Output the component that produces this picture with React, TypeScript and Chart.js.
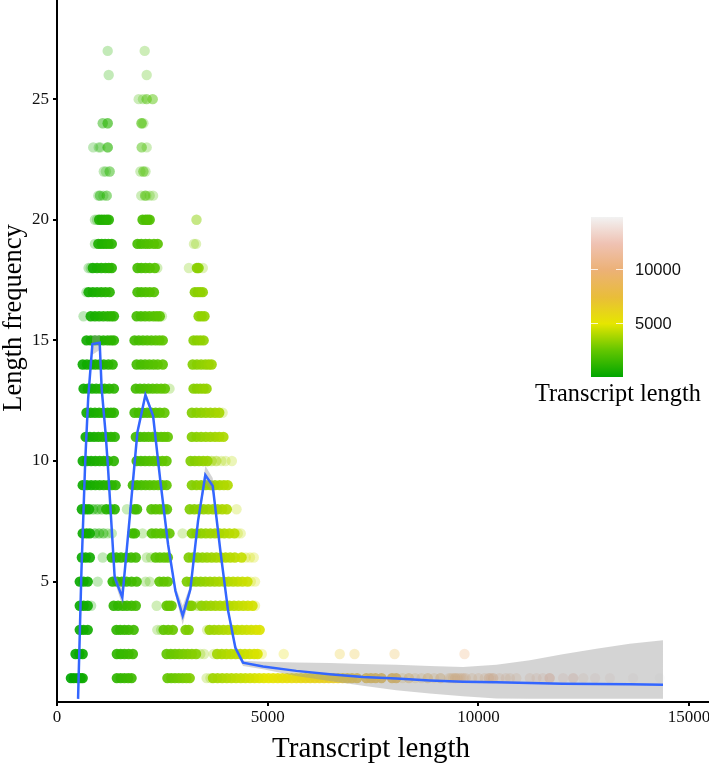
import React, { useEffect, useRef } from "react";
import { Chart, registerables } from "chart.js";

Chart.register(...registerables);

const yTickValues = [5, 10, 15, 20, 25];
const xTickValues = [0, 5000, 10000, 15000];
const legendTickValues = [10000, 5000];
const colorStops = ["#00A600", "#63C600", "#E6E600", "#E9BD3A", "#ECB176", "#EFC2B3", "#F2F2F2"];
const colorMin = 300;
const colorMax = 14400;
const xTitle = "Transcript length";
const yTitle = "Length frequency";

// transcript lengths of the packed bands, per length frequency 1, 2, 3 ...
const denseRows: number[][] = [
  [330, 400, 480, 560, 610, 1420, 1510, 1600, 1690, 1770, 2620, 2710, 2800, 2890, 2980, 3070, 3150, 3700, 3810, 3920, 4030, 4140, 4250, 4360, 4470, 4580, 4690, 4800, 4910, 5020, 5130, 5240, 5350, 5460, 5570, 5680, 5790, 5900, 6010, 6120, 6230, 6340, 6450, 6560, 6670, 6780, 6890, 7000, 7120, 7340, 7450, 7560, 7700, 7950, 8050],
  [440, 530, 610, 1420, 1510, 1600, 1700, 1800, 2600, 2700, 2800, 2900, 3000, 3100, 3200, 3300, 3800, 3910, 4020, 4130, 4240, 4350, 4460, 4570, 4680, 4760],
  [540, 630, 730, 1410, 1500, 1600, 1700, 1820, 2530, 2640, 2750, 3050, 3125, 3620, 3730, 3840, 3950, 4060, 4170, 4280, 4390, 4500, 4610, 4720, 4810],
  [540, 630, 730, 1345, 1450, 1560, 1660, 1770, 1870, 2600, 2660, 2720, 3150, 3200, 3430, 3540, 3650, 3760, 3870, 3980, 4090, 4200, 4310, 4420, 4530, 4640],
  [540, 630, 730, 1320, 1430, 1540, 1650, 1770, 1890, 2430, 2530, 2630, 3080, 3190, 3300, 3410, 3520, 3630, 3740, 3850, 3960, 4070, 4180, 4290, 4400, 4520],
  [590, 680, 780, 1300, 1410, 1520, 1640, 1760, 1870, 2340, 2440, 2540, 2630, 3125, 3230, 3340, 3450, 3560, 3670, 3780, 3890, 4000, 4110, 4220, 4380],
  [610, 700, 780, 1790, 1850, 2250, 2350, 2460, 2570, 2670, 3200, 3310, 3420, 3530, 3640, 3750, 3860, 3970, 4090, 4210],
  [590, 680, 760, 1170, 1270, 1370, 1840, 1900, 2240, 2340, 2440, 2530, 2610, 3150, 3260, 3370, 3480, 3590, 3700, 3810, 3920, 4030],
  [610, 710, 810, 910, 1010, 1110, 1210, 1300, 1390, 1800, 1900, 2000, 2100, 2200, 2300, 2400, 2500, 2600, 3200, 3310, 3420, 3530, 3640, 3750, 3860, 3960, 4050],
  [610, 710, 810, 910, 1010, 1110, 1210, 1350, 1890, 1990, 2090, 2190, 2290, 2390, 2500, 2600, 3170, 3270, 3370, 3470, 3570],
  [680, 780, 880, 980, 1080, 1180, 1280, 1370, 1870, 1970, 2070, 2170, 2270, 2370, 2470, 2550, 2630, 3200, 3310, 3420, 3530, 3640, 3750, 3850, 3950],
  [700, 800, 900, 1000, 1100, 1200, 1280, 1350, 1840, 1940, 2040, 2140, 2240, 2340, 2440, 2550, 3200, 3310, 3420, 3530, 3640, 3750, 3850],
  [630, 730, 830, 930, 1030, 1130, 1240, 1350, 1870, 1970, 2070, 2170, 2270, 2370, 2470, 2560, 3240, 3320, 3400, 3480, 3550],
  [610, 710, 810, 910, 1010, 1110, 1220, 1320, 1890, 1990, 2090, 2190, 2290, 2390, 2510, 3220, 3320, 3420, 3520, 3600, 3670],
  [700, 800, 900, 1000, 1100, 1200, 1280, 1350, 1840, 1940, 2040, 2140, 2240, 2340, 2430, 2510, 3240, 3320, 3400, 3480],
  [800, 900, 1000, 1100, 1200, 1280, 1350, 1890, 1990, 2090, 2190, 2290, 2370, 2440, 3360, 3430, 3500],
  [750, 850, 950, 1050, 1150, 1250, 1910, 2000, 2100, 2200, 2300, 3270, 3340, 3400, 3460],
  [850, 950, 1050, 1150, 1230, 1300, 1910, 2000, 2100, 2200, 2320, 3320, 3360],
  [980, 1060, 1140, 1220, 1300, 1910, 2000, 2100, 2190, 2300, 2390],
  [1000, 1060, 1120, 1180, 1230, 2030, 2100, 2150, 2200],
];

// single, pale dots (a repeated length means several transcripts on the same spot)
const faintRows: number[][] = [
  [3550, 3640, 8200, 8350, 8350, 8500, 8650, 8800, 8800, 8950, 9100, 9100, 9300, 9350, 9400, 9450, 9450, 9500, 9550, 9600, 9650, 9700, 9850, 10000, 10150, 10250, 10250, 10300, 10350, 10350, 10500, 10650, 10750, 10900, 11220, 11380, 11530, 11690, 11690, 11690, 12010, 12250, 12250, 12490, 12770, 13120, 13670, 14300],
  [3400, 3490, 3720, 4860, 5380, 6710, 7060, 8010, 9670],
  [2380, 2470, 3560],
  [810, 2365, 3330, 3370, 4700],
  [965, 2100, 2200, 4600, 4700],
  [1085, 2130, 2230, 4480, 4580, 4670],
  [900, 900, 1000, 1000, 1100, 1100, 1200, 1300, 2030, 2980, 4290, 4360],
  [860, 860, 960, 960, 1060, 1060, 1660, 4260],
  [],
  [3670, 3670, 3780, 3780, 3900, 4000, 4150],
  [],
  [3930],
  [2670],
  [],
  [],
  [630, 2490],
  [700],
  [750, 800, 2380, 3130, 3460],
  [900, 3250, 3300],
  [900, 950, 3310, 3310],
  [980, 1020, 1020, 1100, 1180, 1180, 2000, 2090, 2090, 2120, 2200, 2280],
  [1110, 1160, 1250, 1250, 1980, 2050, 2050, 2100],
  [860, 990, 1030, 1203, 1203, 1203, 2010, 2010, 2128],
  [1085, 1085, 1203, 1203, 1203, 2000, 2010, 2010, 2050],
  [1939, 2040, 2128, 2128, 2271, 2271],
  [1227, 2128],
  [1203, 2081],
];

const lineX = [500, 580, 670, 740, 840, 1013, 1060, 1148, 1203, 1369, 1550, 1725, 1907, 2098, 2280, 2453, 2635, 2810, 2983, 3165, 3347, 3520, 3695, 3877, 4060, 4233, 4414, 4890, 5680, 6470, 7260, 8050, 8845, 9635, 10427, 11220, 12000, 12800, 13590, 14380];
const lineY = [0.14, 5.45, 10, 12.6, 14.85, 14.9, 13, 11.25, 9.93, 5.17, 4.34, 7.65, 11.18, 12.74, 11.87, 9.17, 6.55, 4.61, 3.58, 4.68, 7.52, 9.42, 8.97, 6.27, 3.79, 2.26, 1.64, 1.48, 1.3, 1.16, 1.05, 0.98, 0.9, 0.85, 0.83, 0.8, 0.77, 0.76, 0.745, 0.73];
const ribbonUpper = [0.3, 5.6, 10.15, 12.8, 15.2, 15.2, 13.15, 11.4, 10.05, 5.35, 4.7, 7.8, 11.3, 12.9, 12, 9.3, 6.7, 4.8, 4, 4.85, 7.65, 9.8, 9.3, 6.4, 3.95, 2.4, 1.72, 1.68, 1.65, 1.63, 1.59, 1.55, 1.5, 1.46, 1.55, 1.74, 1.99, 2.22, 2.42, 2.57];
const ribbonLower = [0.14, 5.3, 9.85, 12.4, 14.4, 14.6, 12.85, 11.1, 9.8, 5, 4, 7.5, 11.05, 12.6, 11.75, 9.05, 6.4, 4.45, 3.2, 4.5, 7.4, 9.1, 8.7, 6.15, 3.65, 2.1, 1.5, 1.37, 1.09, 0.88, 0.68, 0.5, 0.36, 0.25, 0.16, 0.14, 0.14, 0.14, 0.14, 0.14];

function hexRgb(h: string) {
  return [1, 3, 5].map((i) => parseInt(h.slice(i, i + 2), 16));
}
function colorFor(v: number, alpha: number) {
  const t = Math.max(0, Math.min(1, (v - colorMin) / (colorMax - colorMin))) * (colorStops.length - 1);
  const i = Math.min(colorStops.length - 2, Math.floor(t));
  const a = hexRgb(colorStops[i]);
  const b = hexRgb(colorStops[i + 1]);
  const f = t - i;
  const c = a.map((p, k) => Math.round(p + (b[k] - p) * f));
  return `rgba(${c[0]},${c[1]},${c[2]},${alpha})`;
}

const toPoints = (rows: number[][]) => rows.flatMap((r, i) => r.map((x) => ({ x, y: i + 1 })));
const serif = '"Liberation Serif"';
const sans = '"Liberation Sans"';

const axisTitles = {
  id: "axisTitles",
  afterDraw(chart: any) {
    const ctx = chart.ctx;
    ctx.save();
    ctx.fillStyle = "#000";
    ctx.textAlign = "center";
    ctx.textBaseline = "middle";
    ctx.font = `29px ${serif}`;
    ctx.fillText(xTitle, 371, 749);
    ctx.translate(14, 318);
    ctx.rotate(-Math.PI / 2);
    ctx.font = `26.5px ${serif}`;
    ctx.fillText(yTitle, 0, 0);
    ctx.restore();
  },
};

const clearPadding = (s: any) => {
  s.paddingTop = 0;
  s.paddingBottom = 0;
  s.paddingLeft = 0;
  s.paddingRight = 0;
  if (s._margins) {
    s._margins.top = 0;
    s._margins.bottom = 0;
    s._margins.left = 0;
    s._margins.right = 0;
  }
};

export default function App() {
  const ref = useRef<HTMLCanvasElement>(null);
  useEffect(() => {
    const chart = new Chart(ref.current!, {
      type: "scatter",
      plugins: [axisTitles],
      data: {
        datasets: [
          {
            label: "faint",
            data: toPoints(faintRows),
            order: 5,
            pointRadius: 5.2,
            pointHoverRadius: 5.2,
            pointBorderWidth: 0,
            pointBackgroundColor: (c: any) => colorFor(c.raw?.x ?? 0, 0.28),
          },
          {
            label: "dense",
            data: toPoints(denseRows),
            order: 4,
            pointRadius: 5.2,
            pointHoverRadius: 5.2,
            pointBorderWidth: 0,
            pointBackgroundColor: (c: any) => colorFor(c.raw?.x ?? 0, 0.92),
          },
          {
            label: "upper",
            data: lineX.map((x, i) => ({ x, y: ribbonUpper[i] })),
            order: 3,
            showLine: true,
            pointRadius: 0,
            borderWidth: 0,
            borderColor: "rgba(0,0,0,0)",
            backgroundColor: "rgba(153,153,153,0.42)",
            fill: "+1",
            tension: 0,
          },
          {
            label: "lower",
            data: lineX.map((x, i) => ({ x, y: ribbonLower[i] })),
            order: 3,
            showLine: true,
            pointRadius: 0,
            borderWidth: 0,
            borderColor: "rgba(0,0,0,0)",
            fill: false,
            tension: 0,
          },
          {
            label: "smooth",
            data: lineX.map((x, i) => ({ x, y: lineY[i] })),
            order: 1,
            showLine: true,
            pointRadius: 0,
            borderWidth: 2.5,
            borderColor: "#3366FF",
            fill: false,
            tension: 0,
          },
        ],
      } as any,
      options: {
        responsive: false,
        animation: false,
        layout: { padding: 0, autoPadding: false },
        plugins: { legend: { display: false }, tooltip: { enabled: false } },
        scales: {
          x: {
            type: "linear",
            min: 0,
            max: 15472,
            afterBuildTicks: (s: any) => {
              s.ticks = xTickValues.map((value) => ({ value }));
            },
            afterFit: (s: any) => {
              s.height = 65;
              clearPadding(s);
            },
            border: { color: "#000", width: 2 },
            grid: { drawOnChartArea: false, drawTicks: true, tickLength: 4, color: "#000", lineWidth: 2 },
            ticks: { autoSkip: false, maxRotation: 0, color: "#111", font: { family: serif, size: 17 }, padding: 1, callback: (v: any) => String(v) },
          },
          y: {
            type: "linear",
            min: 0.01,
            max: 29.11,
            afterBuildTicks: (s: any) => {
              s.ticks = yTickValues.map((value) => ({ value }));
            },
            afterFit: (s: any) => {
              s.width = 57;
              clearPadding(s);
            },
            border: { color: "#000", width: 2 },
            grid: { drawOnChartArea: false, drawTicks: true, tickLength: 4, color: "#000", lineWidth: 2 },
            ticks: { autoSkip: false, color: "#111", font: { family: serif, size: 17 }, padding: 4, callback: (v: any) => String(v) },
          },
        },
      } as any,
    });
    return () => chart.destroy();
  }, []);

  const barTop = 217;
  const barHeight = 160;
  const tickY = (v: number) => barTop + barHeight * (1 - v / 14800);
  return (
    <div style={{ position: "absolute", left: 0, top: 0, width: 709, height: 767, background: "#fff", overflow: "hidden" }}>
      <canvas ref={ref} width={709} height={767} style={{ display: "block" }} />
      <div
        style={{
          position: "absolute",
          left: 591,
          top: barTop,
          width: 32,
          height: barHeight,
          background: `linear-gradient(to top, ${colorStops.join(", ")})`,
        }}
      />
      {legendTickValues.map((v) => (
        <React.Fragment key={v}>
          <div style={{ position: "absolute", left: 591, top: tickY(v), width: 7, height: 1, background: "rgba(255,255,255,0.8)" }} />
          <div style={{ position: "absolute", left: 616, top: tickY(v), width: 7, height: 1, background: "rgba(255,255,255,0.8)" }} />
          <div style={{ position: "absolute", left: 635, top: tickY(v) - 9, fontFamily: sans, fontSize: 16.5, lineHeight: "18px", color: "#111" }}>{v}</div>
        </React.Fragment>
      ))}
      <div style={{ position: "absolute", left: 535, top: 380, fontFamily: serif, fontSize: 24.3, lineHeight: "26px", color: "#000", whiteSpace: "nowrap" }}>Transcript length</div>
    </div>
  );
}
